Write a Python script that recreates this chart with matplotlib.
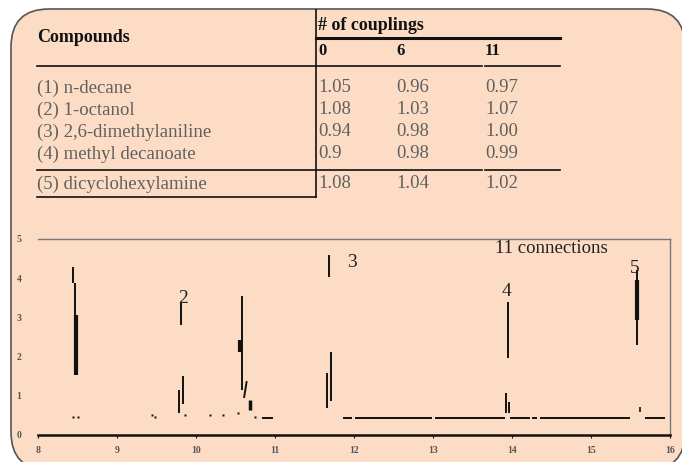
import matplotlib
matplotlib.use("Agg")
import matplotlib.pyplot as plt
from matplotlib.patches import FancyBboxPatch

# ---------------- data ----------------
compounds = ["(1) n-decane", "(2) 1-octanol", "(3) 2,6-dimethylaniline",
             "(4) methyl decanoate", "(5) dicyclohexylamine"]
couplings = ["0", "6", "11"]
ratio_0 = ["1.05", "1.08", "0.94", "0.9", "1.08"]
ratio_6 = ["0.96", "1.03", "0.98", "0.98", "1.04"]
ratio_11 = ["0.97", "1.07", "1.00", "0.99", "1.02"]

# chromatogram peak fragments (retention time, low, high, line width)
seg_x = [8.443, 8.468, 8.487,
         9.810, 9.785, 9.835,
         10.582, 10.563, 10.680,
         11.684, 11.658, 11.709,
         13.949, 13.924, 13.962,
         15.582, 15.588, 15.620]
seg_lo = [3.88, 3.00, 1.53,
          2.81, 0.56, 0.79,
          1.15, 2.12, 0.64,
          4.03, 0.69, 0.87,
          1.96, 0.56, 0.56,
          2.30, 2.93, 0.59]
seg_hi = [4.29, 3.88, 3.06,
          3.37, 1.15, 1.51,
          3.55, 2.42, 0.89,
          4.59, 1.58, 2.12,
          3.39, 1.07, 0.84,
          4.21, 3.95, 0.71]
seg_w = [1.4, 1.4, 3.0,
         1.4, 1.4, 1.4,
         1.4, 3.0, 2.5,
         1.4, 1.4, 1.4,
         1.4, 1.4, 1.4,
         1.4, 3.0, 1.2]

# baseline pieces (start, end) at baseline level
base_level = 0.434
base_start = [11.861, 12.013, 13.025, 13.975, 14.253, 14.354, 15.684, 10.835]
base_end = [11.975, 12.987, 13.911, 14.228, 14.316, 15.494, 15.937, 10.975]
# baseline specks in the early part
speck_x = [8.443, 8.506, 9.861, 10.177, 10.342, 10.532, 10.747, 9.443, 9.48]
speck_y = [0.46, 0.46, 0.50, 0.50, 0.50, 0.55, 0.46, 0.50, 0.46]

peak_labels = ["2", "3", "4", "5"]
peak_label_x = [9.772, 11.911, 13.873, 15.494]
peak_label_y = [3.49, 4.39, 3.65, 4.26]

x_ticks = [8, 9, 10, 11, 12, 13, 14, 15, 16]
y_ticks = [0, 1, 2, 3, 4, 5]

# ---------------- figure ----------------
W, H = 682, 462
fig = plt.figure(figsize=(W / 100, H / 100), dpi=100)
fig.patch.set_facecolor("white")

bg = fig.add_axes([0, 0, 1, 1])
bg.set_xlim(0, W)
bg.set_ylim(H, 0)
bg.axis("off")

peach = "#FCDCC5"
box = FancyBboxPatch((11, 9), 674, 461,
                     boxstyle="round,pad=0,rounding_size=38",
                     facecolor=peach, edgecolor="#555555", lw=1.2)
bg.add_patch(box)

serif = ["Liberation Serif", "DejaVu Serif"]
ink = "#111111"
grey = "#606060"

# table layout (pixel coords)
col_x = [318, 396, 485]
row_y = [88, 110, 132, 154, 184]
fs = 13.5

bg.text(37, 37, "Compounds", family=serif, fontsize=fs - 0.5, fontweight="bold",
        color=ink, va="center", ha="left")
bg.text(318, 25, "# of couplings", family=serif, fontsize=fs - 0.5,
        fontweight="bold", color=ink, va="center", ha="left")
for cx, c in zip(col_x, couplings):
    bg.text(cx, 51, c, family=serif, fontsize=fs - 1.5, fontweight="bold",
            color=ink, va="center", ha="left")

for ry, name, a, b, c in zip(row_y, compounds, ratio_0, ratio_6, ratio_11):
    bg.text(37, ry, name, family=serif, fontsize=fs, color=grey,
            va="center", ha="left")
    for cx, v in zip(col_x, (a, b, c)):
        bg.text(cx, ry, v, family=serif, fontsize=fs, color=grey,
                va="center", ha="left")

# table rules
bg.plot([316, 316], [10, 197], color=ink, lw=1.2)
bg.plot([316, 560], [38, 38], color=ink, lw=2.2)
bg.plot([37, 482], [66, 66], color=ink, lw=1.2)
bg.plot([485, 560], [66, 66], color=ink, lw=1.2)
bg.plot([37, 482], [170, 170], color=ink, lw=1.2)
bg.plot([485, 560], [170, 170], color=ink, lw=1.2)
bg.plot([37, 316], [197, 197], color=ink, lw=1.2)

# ---------------- chromatogram ----------------
left, right, top, bottom = 38, 670, 239, 435
ax = fig.add_axes([left / W, 1 - bottom / H, (right - left) / W, (bottom - top) / H])
ax.set_facecolor("none")
ax.set_xlim(8, 16)
ax.set_ylim(0, 5)

ax.vlines(seg_x, seg_lo, seg_hi, colors=ink, linewidths=seg_w)
ax.plot([10.61, 10.64], [0.97, 1.35], color=ink, lw=1.4)
ax.hlines([base_level] * len(base_start), base_start, base_end, colors=ink, lw=1.4)
ax.plot(speck_x, speck_y, "s", ms=1.5, color=ink, mec="none")

for lab, lx, ly in zip(peak_labels, peak_label_x, peak_label_y):
    ax.text(lx, ly, lab, family=serif, fontsize=14, color="#222222",
            ha="left", va="center")
ax.text(13.79, 4.77, "11 connections", family=serif, fontsize=13.5,
        color="#222222", ha="left", va="center")

for s in ("top", "right"):
    ax.spines[s].set_color("#777777")
    ax.spines[s].set_linewidth(1.0)
ax.spines["left"].set_visible(False)
ax.spines["bottom"].set_color(ink)
ax.spines["bottom"].set_linewidth(1.8)

ax.set_xticks(x_ticks)
ax.set_xticklabels([str(t) for t in x_ticks], family=serif, fontsize=7,
                   fontweight="bold", color="#555555")
ax.set_yticks(y_ticks)
ax.set_yticklabels([str(t) for t in y_ticks], family=serif, fontsize=7,
                   fontweight="bold", color="#555555")
ax.tick_params(axis="x", length=2, width=0.8, pad=6, color=ink)
ax.tick_params(axis="y", length=0, pad=12)

fig.savefig("out.png", dpi=100, facecolor="white")
